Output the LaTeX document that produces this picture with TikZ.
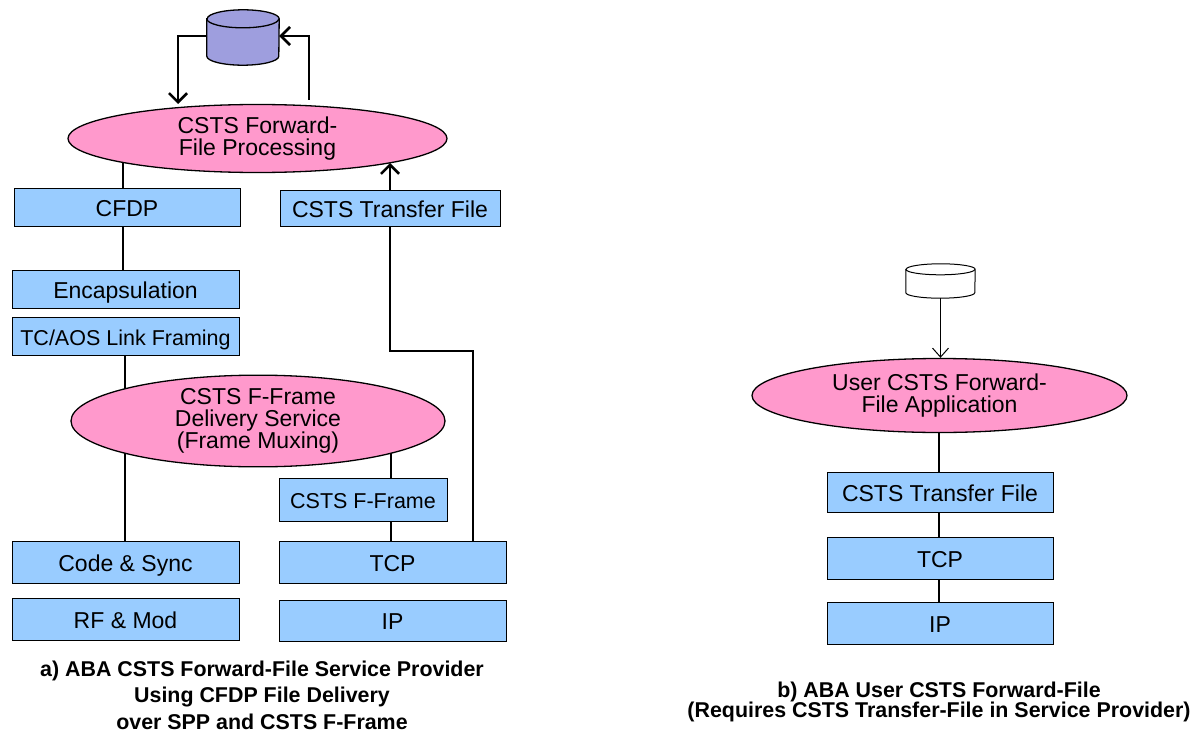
\documentclass[tikz,border=0pt]{standalone}
\usepackage{fontspec}
\setmainfont{Liberation Sans}
\usetikzlibrary{backgrounds,shapes.geometric,arrows.meta}
\definecolor{boxblue}{RGB}{153,204,255}
\definecolor{ovalpink}{RGB}{255,153,204}
\definecolor{storeblue}{RGB}{158,158,222}
\tikzset{
  >={Straight Barb[length=9pt,width=18pt,line width=2.6pt]},
  layerbox/.style = {draw,line width=0.7pt,fill=boxblue,inner sep=0pt,text height=20pt,text depth=1.4pt,font=\fontsize{23}{25}\selectfont},
  narrowbox/.style = {layerbox,font=\fontsize{21.5}{25}\selectfont},
  procoval/.style = {draw,line width=1.3pt,ellipse,fill=ovalpink,inner sep=0pt,align=center,font=\fontsize{23}{22}\selectfont},
  filestore/.style = {inner sep=0pt},
  link/.style = {line width=2.6pt},
  caption/.style = {align=center,font=\bfseries\fontsize{21.4}{26.5}\selectfont}
}
% drum drawn over a named node: name, x radius, y radius, fill, line width
\newcommand{\drum}[5]{
  \draw[fill=#4,line width=#5]
    ([yshift=-#3]#1.north west) -- ([yshift=#3]#1.south west)
    arc[start angle=180,end angle=360,x radius=#2,y radius=#3]
    -- ([yshift=-#3]#1.north east)
    arc[start angle=0,end angle=180,x radius=#2,y radius=#3] -- cycle;
  \draw[line width=#5] ([yshift=-#3]#1.north west)
    arc[start angle=180,end angle=360,x radius=#2,y radius=#3];
}

\begin{document}
\begin{tikzpicture}[x=1pt,y=-1pt]
  \useasboundingbox (0,0) rectangle (1196,733);
  % a) provider
  \node[filestore,minimum width=72pt,minimum height=55pt] (store) at (243,37.5) {};
  \drum{store}{36pt}{9pt}{storeblue}{1.3pt}
  \node[procoval,minimum width=379pt,minimum height=68pt] (fileproc) at (257.5,138.5) {CSTS Forward-\\File Processing};
  \node[layerbox,minimum width=226pt,minimum height=38pt] (cfdp) at (127,207) {CFDP};
  \node[layerbox,minimum width=220pt,minimum height=36pt] (transfer) at (390,208) {CSTS Transfer File};
  \node[layerbox,minimum width=227pt,minimum height=38pt] (encap) at (125.5,289) {Encapsulation};
  \node[narrowbox,minimum width=227pt,minimum height=38pt] (framing) at (125.5,336) {TC/AOS Link Framing};
  \node[procoval,minimum width=374pt,minimum height=89pt] (delivery) at (258,421) {CSTS F-Frame\\Delivery Service\\(Frame Muxing)};
  \node[narrowbox,minimum width=168pt,minimum height=43pt] (fframe) at (363,499.5) {CSTS F-Frame};
  \node[layerbox,minimum width=227pt,minimum height=42pt] (codesync) at (125.5,562) {Code \& Sync};
  \node[layerbox,minimum width=227pt,minimum height=42pt] (rfmod) at (125.5,619) {RF \& Mod};
  \node[layerbox,minimum width=227pt,minimum height=42pt] (tcp) at (392.5,562) {TCP};
  \node[layerbox,minimum width=227pt,minimum height=41pt] (ip) at (392.5,620.5) {IP};
  \node[caption] (captiona) at (262,695) {a) ABA CSTS Forward-File Service Provider\\Using CFDP File Delivery\\over SPP and CSTS F-Frame};
  % b) user
  \node[filestore,minimum width=69pt,minimum height=34pt] (userstore) at (940.5,281) {};
  \drum{userstore}{34.5pt}{5.5pt}{white}{1pt}
  \node[procoval,minimum width=375pt,minimum height=74pt] (userapp) at (939.5,395.5) {User CSTS Forward-\\File Application};
  \node[layerbox,minimum width=226pt,minimum height=40pt] (usertransfer) at (940,492) {CSTS Transfer File};
  \node[layerbox,minimum width=226pt,minimum height=42pt] (usertcp) at (940,558) {TCP};
  \node[layerbox,minimum width=226pt,minimum height=42pt] (userip) at (940,623) {IP};
  \node[caption,font=\bfseries\fontsize{21.4}{20}\selectfont] (captionb) at (939,702) {b) ABA User CSTS Forward-File\\(Requires CSTS Transfer-File in Service Provider)};
  % connectors
  \coordinate (leftrun) at (123,0);
  \coordinate (lowrun) at (125,0);
  \coordinate (rightrun) at (391,0);
  \coordinate (tcprun) at (473,0);
  \coordinate (userrun) at (939,0);
  \coordinate (storeout) at (178,36);
  \coordinate (storein) at (309,36);
  \begin{scope}[on background layer]
    \draw[link] (fileproc.center -| leftrun) -- (cfdp.north -| leftrun);
    \draw[link] (cfdp.south -| leftrun) -- (encap.north -| leftrun);
    \draw[link] (framing.south -| lowrun) -- (delivery.center -| lowrun);
    \draw[link] (delivery.center -| lowrun) -- (codesync.north -| lowrun);
    \draw[link] (delivery.center -| rightrun) -- (fframe.north -| rightrun);
    \draw[link] (fframe.south -| rightrun) -- (tcp.north -| rightrun);
    \draw[link] (userapp.center -| userrun) -- (usertransfer.north -| userrun);
    \draw[link] (usertransfer.south -| userrun) -- (usertcp.north -| userrun);
    \draw[link] (usertcp.south -| userrun) -- (userip.north -| userrun);
  \end{scope}
  \draw[->,link] (store.west |- storeout) -- (storeout) -- (storeout |- 0,104);
  \draw[->,link] (storein |- 0,100) -- (storein) -- (store.east |- storein);
  \draw[link] (tcp.north -| tcprun) -- (tcprun |- 0,351) -- (transfer.south |- 0,351) -- (transfer.south);
  \draw[->,link] (transfer.north) -- (transfer.north |- 0,163);
  \draw[->,line width=1pt,>={Straight Barb[length=9pt,width=16pt,line width=1pt]}] (userstore.south) -- (userstore.south |- userapp.north);
\end{tikzpicture}
\end{document}
